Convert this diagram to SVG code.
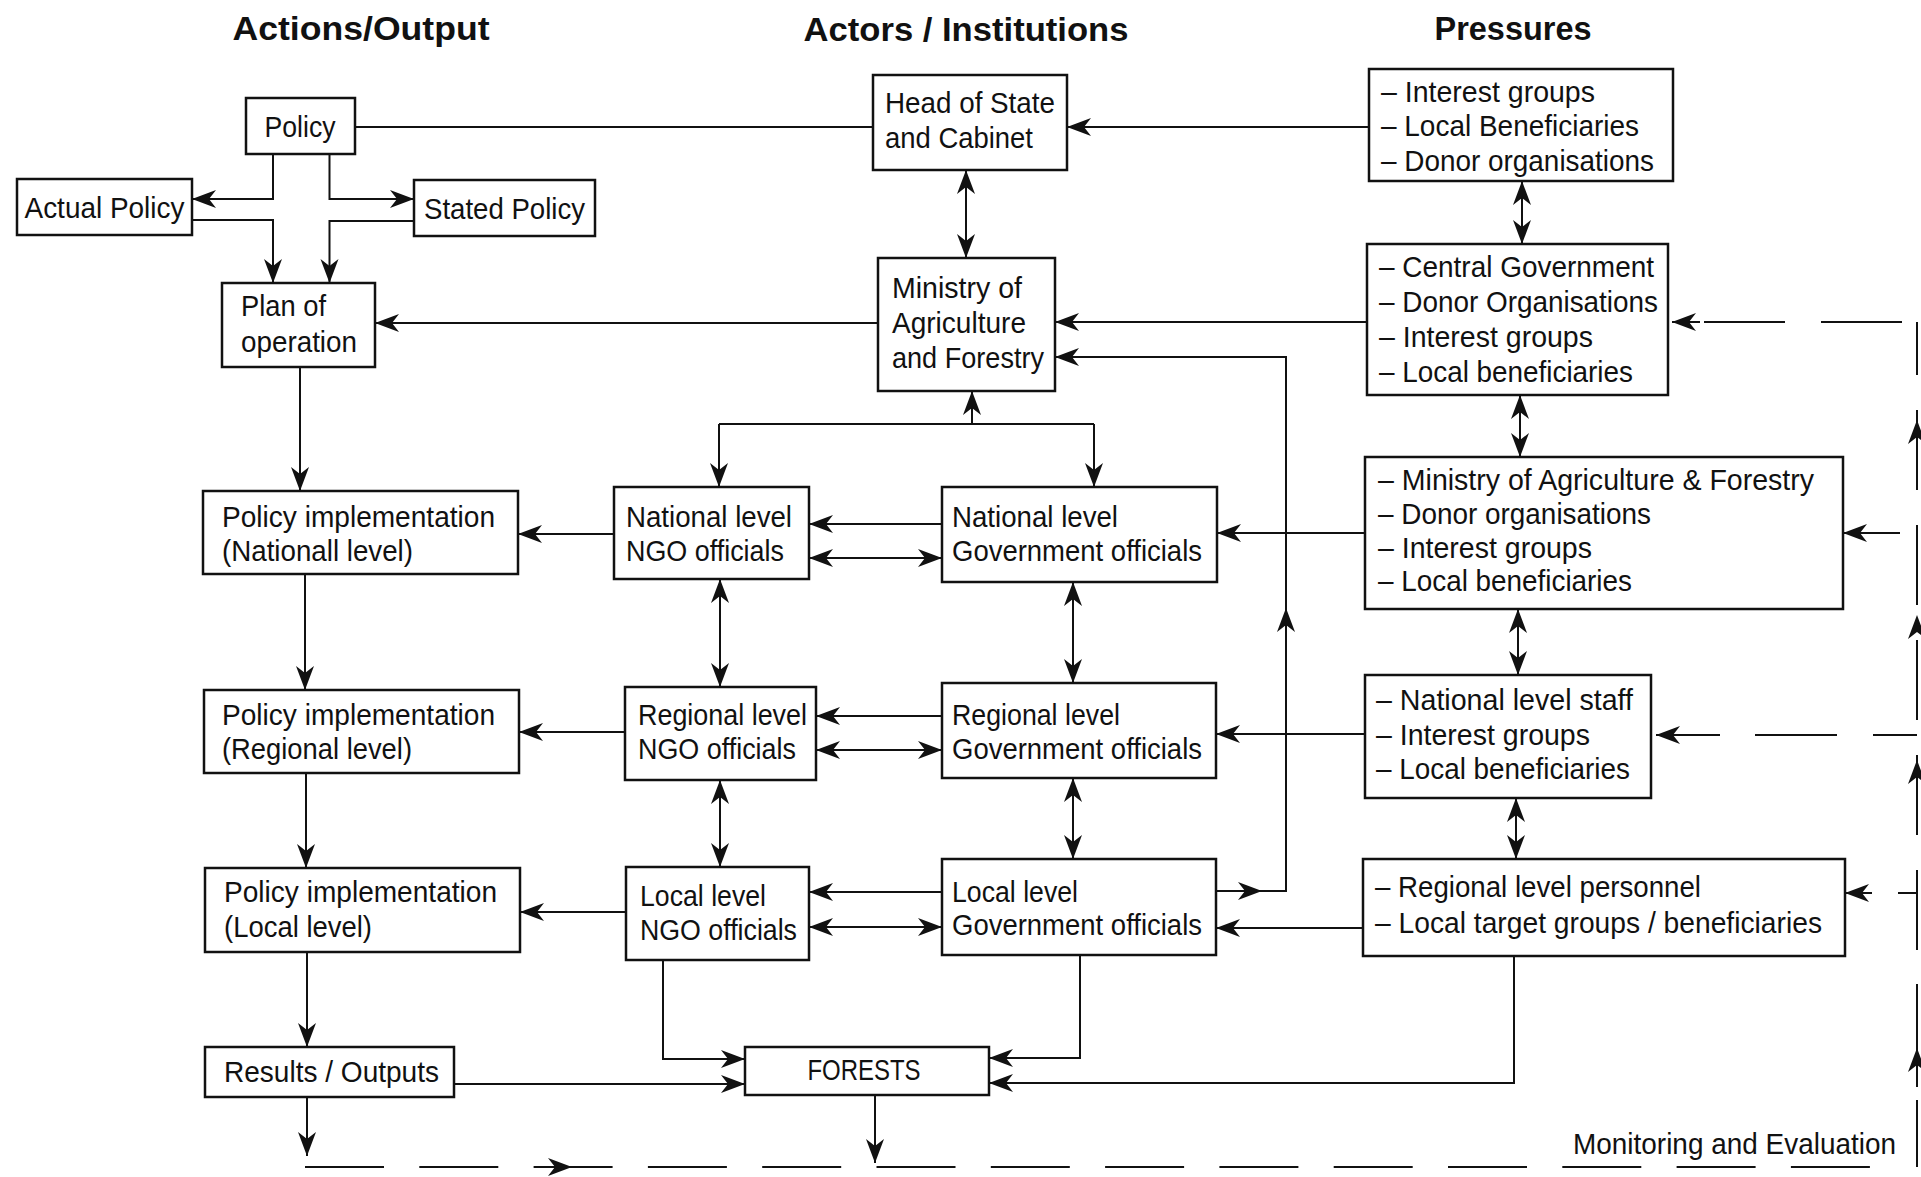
<svg xmlns="http://www.w3.org/2000/svg" xmlns:xlink="http://www.w3.org/1999/xlink" width="1921" height="1177" viewBox="0 0 1921 1177">
<style>
.box{fill:#fff;stroke:#111;stroke-width:2.5}
.t{font-family:"Liberation Sans",Arial,sans-serif;font-size:30px;fill:#111}
.tc{text-anchor:middle}
.h{font-family:"Liberation Sans",Arial,sans-serif;font-size:34px;font-weight:bold;fill:#111;text-anchor:middle}
.c{fill:none;stroke:#111;stroke-width:2}
.a{marker-end:url(#arr)}
.b{marker-start:url(#arr);marker-end:url(#arr)}
</style>
<defs>
<marker id="arr" viewBox="-26 -11 28 22" refX="0" refY="0" markerWidth="28" markerHeight="22" orient="auto-start-reverse" markerUnits="userSpaceOnUse">
<path d="M0,0 L-24,-9 L-17,0 L-24,9 Z" fill="#111"/>
</marker>
<path id="ahead" d="M0,0 L-24,-9 L-17,0 L-24,9 Z" fill="#111"/>
</defs>
<rect width="1921" height="1177" fill="#fff"/>

<g id="titles">
<text class="h" x="361" y="40" textLength="257" lengthAdjust="spacingAndGlyphs">Actions/Output</text>
<text class="h" x="966" y="41" textLength="325" lengthAdjust="spacingAndGlyphs">Actors / Institutions</text>
<text class="h" x="1513" y="40" textLength="157" lengthAdjust="spacingAndGlyphs">Pressures</text>
</g>

<g id="policy"><rect class="box" x="246" y="98" width="109" height="56"/><text class="t tc" x="300" y="137" textLength="71" lengthAdjust="spacingAndGlyphs">Policy</text></g>
<g id="actual-policy"><rect class="box" x="17" y="179" width="175" height="56"/><text class="t tc" x="104.5" y="218" textLength="160" lengthAdjust="spacingAndGlyphs">Actual Policy</text></g>
<g id="stated-policy"><rect class="box" x="414" y="180" width="181" height="56"/><text class="t tc" x="504.5" y="219" textLength="161" lengthAdjust="spacingAndGlyphs">Stated Policy</text></g>
<g id="plan"><rect class="box" x="222" y="283" width="153" height="84"/><text class="t" x="241" y="316" textLength="85" lengthAdjust="spacingAndGlyphs">Plan of</text><text class="t" x="241" y="352" textLength="116" lengthAdjust="spacingAndGlyphs">operation</text></g>

<g id="head-of-state"><rect class="box" x="873" y="75" width="194" height="95"/><text class="t" x="885" y="113" textLength="170" lengthAdjust="spacingAndGlyphs">Head of State</text><text class="t" x="885" y="148" textLength="148" lengthAdjust="spacingAndGlyphs">and Cabinet</text></g>
<g id="ministry"><rect class="box" x="878" y="258" width="177" height="133"/><text class="t" x="892" y="298" textLength="130" lengthAdjust="spacingAndGlyphs">Ministry of</text><text class="t" x="892" y="333" textLength="134" lengthAdjust="spacingAndGlyphs">Agriculture</text><text class="t" x="892" y="368" textLength="152" lengthAdjust="spacingAndGlyphs">and Forestry</text></g>

<g id="pressure-1"><rect class="box" x="1369" y="69" width="304" height="112"/>
<text class="t" x="1381" y="102" textLength="214" lengthAdjust="spacingAndGlyphs">– Interest groups</text><text class="t" x="1381" y="136" textLength="258" lengthAdjust="spacingAndGlyphs">– Local Beneficiaries</text><text class="t" x="1381" y="171" textLength="273" lengthAdjust="spacingAndGlyphs">– Donor organisations</text></g>
<g id="pressure-2"><rect class="box" x="1367" y="244" width="301" height="151"/>
<text class="t" x="1379" y="277" textLength="275" lengthAdjust="spacingAndGlyphs">– Central Government</text><text class="t" x="1379" y="312" textLength="279" lengthAdjust="spacingAndGlyphs">– Donor Organisations</text><text class="t" x="1379" y="347" textLength="214" lengthAdjust="spacingAndGlyphs">– Interest groups</text><text class="t" x="1379" y="382" textLength="254" lengthAdjust="spacingAndGlyphs">– Local beneficiaries</text></g>
<g id="pressure-3"><rect class="box" x="1365" y="457" width="478" height="152"/>
<text class="t" x="1378" y="490" textLength="436" lengthAdjust="spacingAndGlyphs">– Ministry of Agriculture &amp; Forestry</text><text class="t" x="1378" y="524" textLength="273" lengthAdjust="spacingAndGlyphs">– Donor organisations</text><text class="t" x="1378" y="558" textLength="214" lengthAdjust="spacingAndGlyphs">– Interest groups</text><text class="t" x="1378" y="591" textLength="254" lengthAdjust="spacingAndGlyphs">– Local beneficiaries</text></g>
<g id="pressure-4"><rect class="box" x="1365" y="675" width="286" height="123"/>
<text class="t" x="1376" y="710" textLength="257" lengthAdjust="spacingAndGlyphs">– National level staff</text><text class="t" x="1376" y="745" textLength="214" lengthAdjust="spacingAndGlyphs">– Interest groups</text><text class="t" x="1376" y="779" textLength="254" lengthAdjust="spacingAndGlyphs">– Local beneficiaries</text></g>
<g id="pressure-5"><rect class="box" x="1363" y="859" width="482" height="97"/>
<text class="t" x="1375" y="897" textLength="326" lengthAdjust="spacingAndGlyphs">– Regional level personnel</text><text class="t" x="1375" y="933" textLength="447" lengthAdjust="spacingAndGlyphs">– Local target groups / beneficiaries</text></g>

<g id="impl-national"><rect class="box" x="203" y="491" width="315" height="83"/><text class="t" x="222" y="527" textLength="273" lengthAdjust="spacingAndGlyphs">Policy implementation</text><text class="t" x="222" y="561" textLength="191" lengthAdjust="spacingAndGlyphs">(Nationall level)</text></g>
<g id="impl-regional"><rect class="box" x="204" y="690" width="315" height="83"/><text class="t" x="222" y="725" textLength="273" lengthAdjust="spacingAndGlyphs">Policy implementation</text><text class="t" x="222" y="759" textLength="190" lengthAdjust="spacingAndGlyphs">(Regional level)</text></g>
<g id="impl-local"><rect class="box" x="205" y="868" width="315" height="84"/><text class="t" x="224" y="902" textLength="273" lengthAdjust="spacingAndGlyphs">Policy implementation</text><text class="t" x="224" y="937" textLength="148" lengthAdjust="spacingAndGlyphs">(Local level)</text></g>
<g id="results"><rect class="box" x="205" y="1047" width="249" height="50"/><text class="t" x="224" y="1082" textLength="215" lengthAdjust="spacingAndGlyphs">Results / Outputs</text></g>

<g id="ngo-national"><rect class="box" x="614" y="487" width="195" height="92"/><text class="t" x="626" y="527" textLength="166" lengthAdjust="spacingAndGlyphs">National level</text><text class="t" x="626" y="561" textLength="158" lengthAdjust="spacingAndGlyphs">NGO officials</text></g>
<g id="gov-national"><rect class="box" x="942" y="487" width="275" height="95"/><text class="t" x="952" y="527" textLength="166" lengthAdjust="spacingAndGlyphs">National level</text><text class="t" x="952" y="561" textLength="250" lengthAdjust="spacingAndGlyphs">Government officials</text></g>
<g id="ngo-regional"><rect class="box" x="625" y="687" width="191" height="93"/><text class="t" x="638" y="725" textLength="169" lengthAdjust="spacingAndGlyphs">Regional level</text><text class="t" x="638" y="759" textLength="158" lengthAdjust="spacingAndGlyphs">NGO officials</text></g>
<g id="gov-regional"><rect class="box" x="942" y="683" width="274" height="95"/><text class="t" x="952" y="725" textLength="168" lengthAdjust="spacingAndGlyphs">Regional level</text><text class="t" x="952" y="759" textLength="250" lengthAdjust="spacingAndGlyphs">Government officials</text></g>
<g id="ngo-local"><rect class="box" x="626" y="867" width="183" height="93"/><text class="t" x="640" y="906" textLength="126" lengthAdjust="spacingAndGlyphs">Local level</text><text class="t" x="640" y="940" textLength="157" lengthAdjust="spacingAndGlyphs">NGO officials</text></g>
<g id="gov-local"><rect class="box" x="942" y="859" width="274" height="96"/><text class="t" x="952" y="902" textLength="126" lengthAdjust="spacingAndGlyphs">Local level</text><text class="t" x="952" y="935" textLength="250" lengthAdjust="spacingAndGlyphs">Government officials</text></g>
<g id="forests"><rect class="box" x="745" y="1047" width="244" height="48"/><text class="t tc" x="864" y="1080" textLength="113" lengthAdjust="spacingAndGlyphs">FORESTS</text></g>

<g id="label-me"><text class="t" x="1573" y="1154" textLength="323" lengthAdjust="spacingAndGlyphs">Monitoring and Evaluation</text></g>

<g id="connectors">
<path class="c" d="M355,127 H873"/>
<path class="c a" d="M273,154 V199 H192"/>
<path class="c a" d="M329.5,154 V199 H414"/>
<path class="c a" d="M192,220 H273 V283"/>
<path class="c a" d="M414,221 H329.5 V283"/>
<path class="c a" d="M878,323 H375"/>
<path class="c a" d="M1369,127 H1067"/>
<path class="c b" d="M966,170 V258"/>
<path class="c a" d="M1367,322 H1055"/>
<path class="c b" d="M1522,181 V244"/>
<path class="c b" d="M1520,395 V457"/>
<path class="c b" d="M1518,609 V675"/>
<path class="c b" d="M1516,798 V859"/>
<path class="c a" d="M300,367 V491"/>
<path class="c a" d="M305,574 V690"/>
<path class="c a" d="M306,773 V868"/>
<path class="c a" d="M307,952 V1047"/>
<path class="c a" d="M307,1097 V1156"/>
<path class="c a" d="M614,534 H518"/>
<path class="c a" d="M625,732 H519"/>
<path class="c a" d="M626,912 H520"/>
<path class="c a" d="M972,424 V391"/>
<path class="c" d="M719,424 H1094"/>
<path class="c a" d="M719,424 V487"/>
<path class="c a" d="M1094,424 V487"/>
<path class="c a" d="M942,524 H809"/>
<path class="c b" d="M809,558 H942"/>
<path class="c a" d="M1365,533 H1217"/>
<path class="c b" d="M720,579 V687"/>
<path class="c b" d="M1073,582 V683"/>
<path class="c a" d="M942,716 H816"/>
<path class="c b" d="M816,750 H942"/>
<path class="c a" d="M1365,734 H1216"/>
<path class="c b" d="M720,780 V867"/>
<path class="c b" d="M1073,778 V859"/>
<path class="c a" d="M942,892 H809"/>
<path class="c b" d="M809,927 H942"/>
<path class="c a" d="M1363,928 H1216"/>
<path class="c a" d="M1216,891 H1262"/>
<path class="c a" d="M1262,891 H1286 V608"/>
<path class="c a" d="M1286,608 V357 H1055"/>
<path class="c a" d="M663,960 V1059 H745"/>
<path class="c a" d="M454,1084 H745"/>
<path class="c a" d="M1080,955 V1058 H989"/>
<path class="c a" d="M1514,956 V1083 H989"/>
<path class="c a" d="M875,1095 V1163"/>
<path class="c" d="M305,1167 H1870" stroke-dasharray="79 35.3"/>
<use xlink:href="#ahead" transform="translate(572,1167)"/>
<path class="c" d="M1917,1167 V1100 M1917,1087 V984 M1917,950 V870 M1917,835 V755 M1917,720 V640 M1917,605 V525 M1917,490 V410 M1917,375 V322"/>
<use xlink:href="#ahead" transform="translate(1917,1048) rotate(-90)"/>
<use xlink:href="#ahead" transform="translate(1917,760) rotate(-90)"/>
<use xlink:href="#ahead" transform="translate(1917,615) rotate(-90)"/>
<use xlink:href="#ahead" transform="translate(1917,420) rotate(-90)"/>
<path class="c" d="M1902,322 H1821 M1785,322 H1704"/>
<path class="c a" d="M1700,322 H1672"/>
<path class="c a" d="M1900,533 H1843"/>
<path class="c" d="M1917,735 H1873 M1837,735 H1755"/>
<path class="c a" d="M1720,735 H1656"/>
<path class="c" d="M1917,893 H1898"/>
<path class="c a" d="M1872,893 H1845"/>
</g>
</svg>
